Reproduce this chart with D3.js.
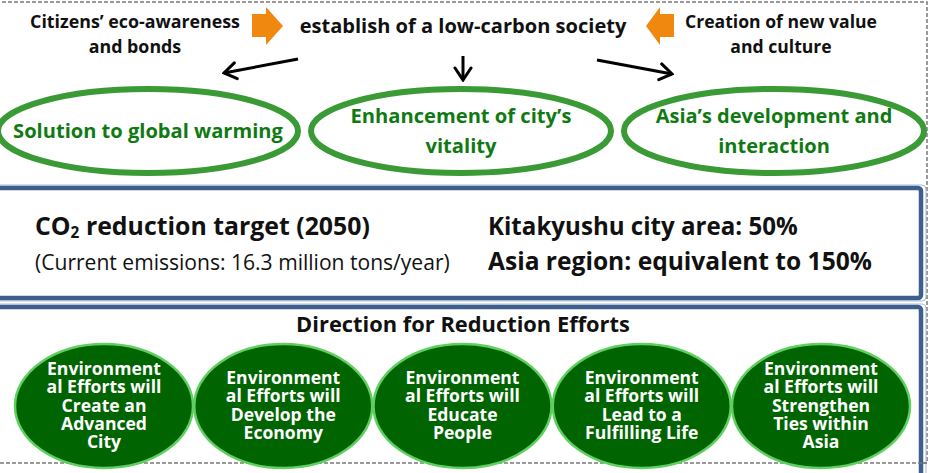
<!DOCTYPE html>
<html>
<head>
<meta charset="utf-8">
<script src="https://cdn.jsdelivr.net/npm/d3@7"></script>
<style>
  body { margin: 0; background: #fff; }
  svg { display: block; font-family: "Open Sans", "Noto Sans", sans-serif; }
</style>
</head>
<body>
<div id="diagram"></div>
<script>
// Texts of the diagram
const sources = [
    ["Citizens’ eco-awareness", "and bonds"],
    ["Creation of new value", "and culture"]
];
const goalTitle = "establish of a low-carbon society";
const goals = [
    ["Solution to global warming"],
    ["Enhancement of city’s", "vitality"],
    ["Asia’s development and", "interaction"]
];
const targetHead = ["CO", "2", " reduction target (2050)"];
const currentEmissions = "(Current emissions: 16.3 million tons/year)";
const targetShares = ["Kitakyushu city area: 50%", "Asia region: equivalent to 150%"];
const effortsTitle = "Direction for Reduction Efforts";
const efforts = [
    ["Environment", "al Efforts will", "Create an", "Advanced", "City"],
    ["Environment", "al Efforts will", "Develop the", "Economy"],
    ["Environment", "al Efforts will", "Educate", "People"],
    ["Environment", "al Efforts will", "Lead to a", "Fulfilling Life"],
    ["Environment", "al Efforts will", "Strengthen", "Ties within", "Asia"]
];

const W = 931, H = 473;
const COLORS = {
    orange: "#f0870f",
    ring: "#3a9a36",
    goalText: "#107a12",
    blue: "#3d5f8d",
    blueLight: "#a9bbd2",
    ovalFill: "#006400",
    ovalEdge: "#5fcf5f",
    dash: "#7a7a7a"
};

const svg = d3.select("#diagram")
    .append("svg")
    .attr("width", W)
    .attr("height", H);

// scale a text's font so its widest line gets the wanted width
function fitWidth(text, target) {
    const base = 20;
    text.attr("font-size", base);
    const node = text.node();
    const spans = node.querySelectorAll("tspan.line");
    const w = spans.length
        ? d3.max(Array.from(spans), s => s.getComputedTextLength())
        : node.getComputedTextLength();
    text.attr("font-size", base * target / w);
    return text;
}

function multiLine(sel, lines, cx, cy, lh, off) {
    sel.selectAll("tspan")
        .data(lines)
        .join("tspan")
        .attr("class", "line")
        .attr("x", cx)
        .attr("y", (d, i) => cy + off + (i - (lines.length - 1) / 2) * lh)
        .text(d => d);
}

// arrow marker (open chevron)
svg.append("defs").append("marker")
    .attr("id", "chev")
    .attr("markerUnits", "userSpaceOnUse")
    .attr("viewBox", "0 0 16 20")
    .attr("refX", 14).attr("refY", 10)
    .attr("markerWidth", 16).attr("markerHeight", 20)
    .attr("orient", "auto")
    .append("path")
    .attr("d", "M2,2 L14,10 L2,18")
    .attr("fill", "none")
    .attr("stroke", "#000")
    .attr("stroke-width", 3)
    .attr("stroke-linecap", "round");

// outer dashed frame
svg.append("rect")
    .attr("x", -4).attr("y", 2)
    .attr("width", 931).attr("height", 461)
    .attr("fill", "none")
    .attr("stroke", COLORS.dash)
    .attr("stroke-width", 1.5)
    .attr("stroke-dasharray", "4,2");

// ---------- top row ----------
const sourceX = d3.scalePoint().domain(d3.range(sources.length)).range([135, 781]);
const sourceW = [210, 192];
svg.selectAll(".source")
    .data(sources)
    .join("text")
    .attr("class", "source")
    .attr("text-anchor", "middle")
    .attr("font-weight", "bold")
    .attr("fill", "#111")
    .each(function (d, i) {
        multiLine(d3.select(this), d, sourceX(i), 34, 25, 6);
        fitWidth(d3.select(this), sourceW[i]);
    });

fitWidth(svg.append("text")
    .attr("x", 463).attr("y", 33)
    .attr("text-anchor", "middle")
    .attr("font-weight", "bold")
    .attr("fill", "#111")
    .text(goalTitle), 327);

// orange block arrows pointing to the title
function blockArrow(x0, x1, dir) {
    const top = 7, bot = 45, sTop = 14, sBot = 37;
    const neck = dir > 0 ? x0 + 14 : x1 - 14;
    const pts = dir > 0
        ? [[x0, sTop], [neck, sTop], [neck, top], [x1, (top + bot) / 2], [neck, bot], [neck, sBot], [x0, sBot]]
        : [[x1, sTop], [neck, sTop], [neck, top], [x0, (top + bot) / 2], [neck, bot], [neck, sBot], [x1, sBot]];
    return "M" + pts.map(p => p.join(",")).join("L") + "Z";
}
svg.selectAll(".orange")
    .data([[252, 283, 1], [646, 674, -1]])
    .join("path")
    .attr("class", "orange")
    .attr("d", d => blockArrow(d[0], d[1], d[2]))
    .attr("fill", COLORS.orange);

// black arrows down to the goals
svg.selectAll(".down")
    .data([[298, 59, 224, 73], [463, 56, 463, 80], [597, 60, 672, 74]])
    .join("line")
    .attr("class", "down")
    .attr("x1", d => d[0]).attr("y1", d => d[1])
    .attr("x2", d => d[2]).attr("y2", d => d[3])
    .attr("stroke", "#000")
    .attr("stroke-width", 3)
    .attr("marker-end", "url(#chev)");

// ---------- goal rings ----------
const goalX = d3.scalePoint().domain(d3.range(goals.length)).range([148, 774]);
const goalW = [270, 221, 237];
const goalG = svg.selectAll(".goal")
    .data(goals)
    .join("g")
    .attr("class", "goal");
goalG.append("ellipse")
    .attr("cx", (d, i) => goalX(i))
    .attr("cy", 131)
    .attr("rx", 150)
    .attr("ry", 42)
    .attr("fill", "none")
    .attr("stroke", COLORS.ring)
    .attr("stroke-width", 6);
goalG.append("text")
    .attr("text-anchor", "middle")
    .attr("font-weight", "bold")
    .attr("fill", COLORS.goalText)
    .each(function (d, i) {
        multiLine(d3.select(this), d, goalX(i), 131, 30, 7);
        fitWidth(d3.select(this), goalW[i]);
    });

// ---------- target box ----------
function blueBox(y, h) {
    svg.append("rect")
        .attr("x", -8).attr("y", y - 3)
        .attr("width", 934).attr("height", h + 6)
        .attr("rx", 4)
        .attr("fill", "none")
        .attr("stroke", COLORS.blueLight)
        .attr("stroke-width", 1);
    svg.append("rect")
        .attr("x", -6).attr("y", y)
        .attr("width", 927).attr("height", h)
        .attr("rx", 3)
        .attr("fill", "#fff")
        .attr("stroke", COLORS.blue)
        .attr("stroke-width", 4.5);
}
blueBox(188, 110);

const head = svg.append("text")
    .attr("x", 35).attr("y", 235)
    .attr("font-weight", "bold")
    .attr("fill", "#111");
head.append("tspan").text(targetHead[0]);
head.append("tspan").attr("font-size", "0.62em").attr("dy", "0.22em").text(targetHead[1]);
head.append("tspan").attr("dy", "-0.137em").text(targetHead[2]);
fitWidth(head, 335);

fitWidth(svg.append("text")
    .attr("x", 35).attr("y", 270)
    .attr("fill", "#111")
    .text(currentEmissions), 415);

const shareW = [310, 384];
svg.selectAll(".share")
    .data(targetShares)
    .join("text")
    .attr("class", "share")
    .attr("x", 488)
    .attr("y", (d, i) => 235 + i * 35)
    .attr("font-weight", "bold")
    .attr("fill", "#111")
    .text(d => d)
    .each(function (d, i) { fitWidth(d3.select(this), shareW[i]); });

// ---------- efforts box ----------
blueBox(307, 200);

// bottom dashed line sits under the ovals
svg.append("line")
    .attr("x1", 0).attr("x2", 927)
    .attr("y1", 463).attr("y2", 463)
    .attr("stroke", COLORS.dash)
    .attr("stroke-width", 1.5)
    .attr("stroke-dasharray", "4,2");

fitWidth(svg.append("text")
    .attr("x", 463).attr("y", 332)
    .attr("text-anchor", "middle")
    .attr("font-weight", "bold")
    .attr("fill", "#111")
    .text(effortsTitle), 334);

const effortX = d3.scalePoint().domain(d3.range(efforts.length)).range([104, 821]);
const effortG = svg.selectAll(".effort")
    .data(efforts)
    .join("g")
    .attr("class", "effort");
effortG.append("ellipse")
    .attr("cx", (d, i) => effortX(i))
    .attr("cy", 406)
    .attr("rx", 89)
    .attr("ry", 62)
    .attr("fill", COLORS.ovalFill)
    .attr("stroke", COLORS.ovalEdge)
    .attr("stroke-width", 2.5);
effortG.append("text")
    .attr("text-anchor", "middle")
    .attr("font-weight", "bold")
    .attr("fill", "#fff")
    .each(function (d, i) {
        multiLine(d3.select(this), d, effortX(i), 406, 18.3, 5.5);
        // all ovals share the size that makes "Environment" 114px wide
        const t = d3.select(this);
        t.attr("font-size", 20);
        const w = t.select("tspan").node().getComputedTextLength();
        t.attr("font-size", 20 * 114 / w);
    });
</script>
</body>
</html>
